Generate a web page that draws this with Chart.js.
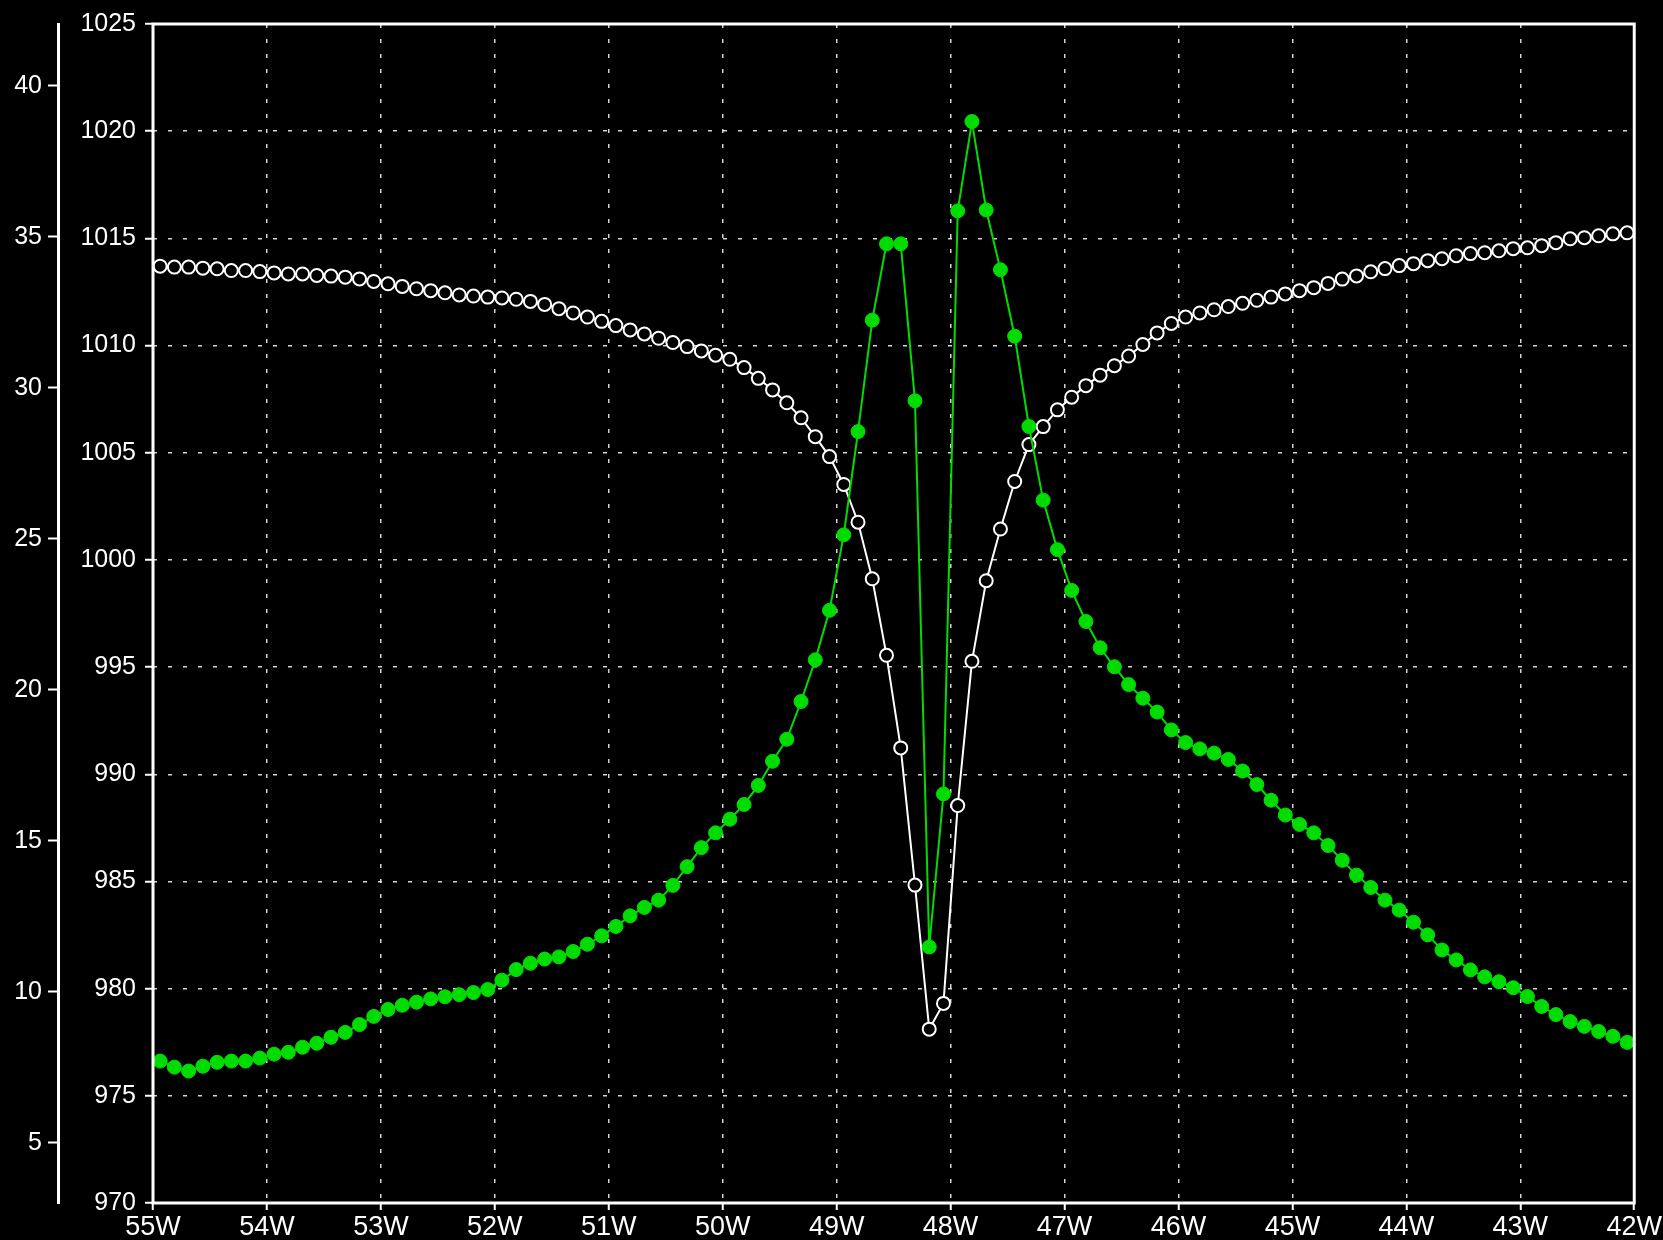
<!DOCTYPE html>
<html>
<head>
<meta charset="utf-8">
<title>Pressure and wind along the section</title>
<script src="https://cdn.jsdelivr.net/npm/chart.js@4.4.1/dist/chart.umd.min.js"></script>
<style>
  html, body { margin: 0; padding: 0; background: #000; }
  canvas { display: block; }
</style>
</head>
<body>
<canvas id="section" width="1663" height="1240"></canvas>
<script>
// model grid along the section, 0.125 deg spacing
const lonStart = -54.9375;
const lonStep = 0.125;
const pointCount = 104;
const lons = Array.from({ length: pointCount }, (_, i) => lonStart + i * lonStep);

// sea level pressure (hPa), white open circles
const pressure = [
  1013.70, 1013.66, 1013.66, 1013.61, 1013.58, 1013.50, 1013.50, 1013.45, 1013.39, 1013.34,
  1013.34, 1013.27, 1013.24, 1013.19, 1013.11, 1012.99, 1012.88, 1012.76, 1012.65, 1012.56,
  1012.46, 1012.36, 1012.31, 1012.26, 1012.22, 1012.16, 1012.06, 1011.92, 1011.72, 1011.52,
  1011.33, 1011.13, 1010.93, 1010.73, 1010.54, 1010.34, 1010.14, 1009.95, 1009.75, 1009.55,
  1009.36, 1008.97, 1008.47, 1007.93, 1007.33, 1006.63, 1005.75, 1004.82, 1003.52, 1001.76,
  999.12, 995.55, 991.23, 984.83, 978.11, 979.31, 988.54, 995.27, 999.03, 1001.44,
  1003.66, 1005.38, 1006.22, 1007.00, 1007.59, 1008.13, 1008.62, 1009.06, 1009.51, 1010.05,
  1010.59, 1011.03, 1011.33, 1011.52, 1011.67, 1011.82, 1011.97, 1012.11, 1012.26, 1012.41,
  1012.56, 1012.70, 1012.90, 1013.10, 1013.25, 1013.44, 1013.59, 1013.73, 1013.82, 1013.96,
  1014.05, 1014.19, 1014.29, 1014.33, 1014.42, 1014.52, 1014.56, 1014.66, 1014.80, 1014.98,
  1015.03, 1015.12, 1015.21, 1015.26
];

// wind speed, green filled circles (left outer axis)
const wind = [
  7.70, 7.50, 7.37, 7.53, 7.66, 7.70, 7.70, 7.80, 7.93, 7.99,
  8.16, 8.29, 8.49, 8.65, 8.91, 9.18, 9.41, 9.55, 9.65, 9.76,
  9.83, 9.90, 9.97, 10.07, 10.38, 10.73, 10.94, 11.08, 11.15, 11.33,
  11.57, 11.85, 12.16, 12.51, 12.79, 13.03, 13.52, 14.14, 14.77, 15.26,
  15.71, 16.20, 16.83, 17.63, 18.36, 19.61, 20.99, 22.63, 25.13, 28.55,
  32.24, 34.77, 34.77, 29.57, 11.48, 16.55, 35.86, 38.82, 35.89, 33.91,
  31.71, 28.72, 26.28, 24.64, 23.29, 22.26, 21.39, 20.76, 20.17, 19.72,
  19.26, 18.67, 18.25, 18.04, 17.90, 17.69, 17.31, 16.86, 16.34, 15.85,
  15.54, 15.26, 14.84, 14.35, 13.86, 13.45, 13.03, 12.70, 12.30, 11.88,
  11.38, 11.05, 10.72, 10.49, 10.33, 10.13, 9.84, 9.51, 9.24, 9.01,
  8.85, 8.68, 8.52, 8.32
];

// axis ranges
const lonMin = -55;
const lonMax = -42;
const pressureMin = 970;
const pressureMax = 1025;
const windMin = 3.0;
const windMax = 42.05;

const gridDash = [4, 11];
const gridColor = 'rgba(235,235,235,0.9)';

Chart.defaults.font.family = '"Liberation Sans", Arial, sans-serif';
Chart.defaults.font.size = 25;
Chart.defaults.color = '#fff';

const blackBackground = {
  id: 'blackBackground',
  beforeDraw(chart) {
    const c = chart.ctx;
    c.save();
    c.fillStyle = '#000';
    c.fillRect(0, 0, chart.width, chart.height);
    c.restore();
  }
};

const plotFrame = {
  id: 'plotFrame',
  afterDatasetsDraw(chart) {
    const { left, top, right, bottom } = chart.chartArea;
    const c = chart.ctx;
    c.save();
    c.strokeStyle = '#fff';
    c.lineWidth = 3;
    c.strokeRect(left, top, right - left, bottom - top);
    c.restore();
  }
};

new Chart(document.getElementById('section'), {
  type: 'line',
  data: {
    datasets: [
      {
        label: 'Wind',
        data: lons.map((lon, i) => ({ x: lon, y: wind[i] })),
        yAxisID: 'yW',
        borderColor: '#00dc00',
        borderWidth: 2,
        pointRadius: 7,
        pointBorderWidth: 1,
        pointBackgroundColor: '#00dc00',
        pointBorderColor: '#00dc00',
        tension: 0
      },
      {
        label: 'Pressure',
        data: lons.map((lon, i) => ({ x: lon, y: pressure[i] })),
        yAxisID: 'yP',
        borderColor: '#fff',
        borderWidth: 2,
        pointRadius: 6.5,
        pointBorderWidth: 2,
        pointBackgroundColor: '#000',
        pointBorderColor: '#fff',
        tension: 0
      }
    ]
  },
  options: {
    responsive: false,
    animation: false,
    devicePixelRatio: 1,
    layout: { padding: { left: 0, right: 28, top: 17, bottom: 0 } },
    plugins: {
      legend: { display: false },
      tooltip: { enabled: false }
    },
    scales: {
      x: {
        type: 'linear',
        position: 'bottom',
        min: lonMin,
        max: lonMax,
        afterFit(scale) { scale.height = 37; },
        ticks: {
          stepSize: 1,
          padding: 1,
          maxRotation: 0,
          autoSkip: false,
          font: { size: 27 },
          callback: (v) => Math.abs(v) + 'W'
        },
        grid: {
          color: gridColor,
          lineWidth: 1.5,
          tickLength: 7,
          tickColor: '#fff',
          tickWidth: 2
        },
        border: { display: false, dash: gridDash }
      },
      yP: {
        type: 'linear',
        position: 'left',
        weight: 0,
        min: pressureMin,
        max: pressureMax,
        afterFit(scale) { scale.width = 95; },
        ticks: { stepSize: 5, padding: 9, callback: (v) => String(v) },
        grid: {
          color: gridColor,
          lineWidth: 1.5,
          tickLength: 8,
          tickColor: '#fff',
          tickWidth: 2
        },
        border: { display: false, dash: gridDash }
      },
      yW: {
        type: 'linear',
        position: 'left',
        weight: 1,
        min: windMin,
        max: windMax,
        afterFit(scale) { scale.width = 58; },
        ticks: { stepSize: 5, padding: 6, includeBounds: false, callback: (v) => String(v) },
        grid: {
          drawOnChartArea: false,
          tickLength: 10,
          tickColor: '#fff',
          tickWidth: 2
        },
        border: { display: true, color: '#fff', width: 3 }
      }
    }
  },
  plugins: [blackBackground, plotFrame]
});
</script>
</body>
</html>
